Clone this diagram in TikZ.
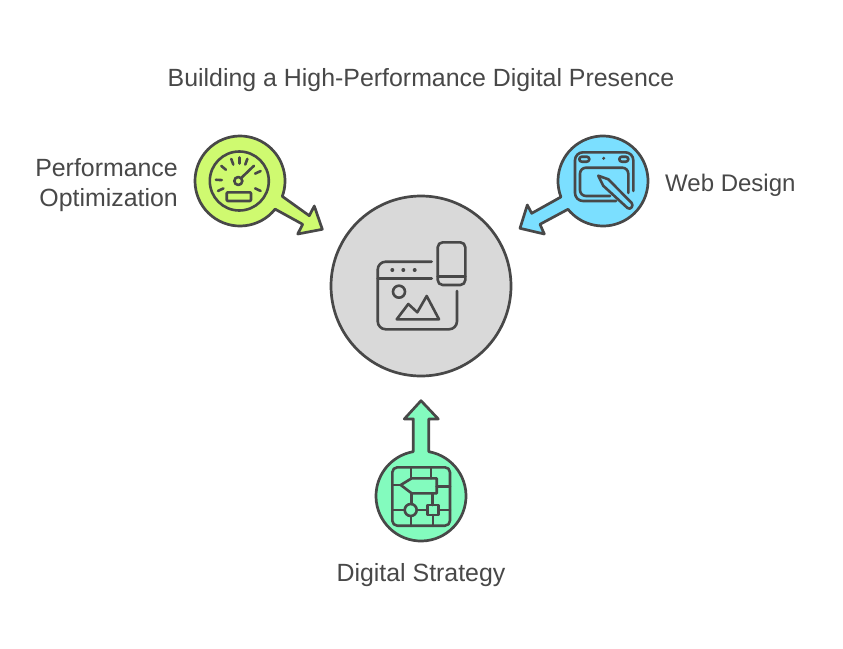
\documentclass[tikz,border=0pt]{standalone}
\usepackage{fontspec}
\setmainfont{Liberation Sans}
\definecolor{ink}{HTML}{484848}
\definecolor{lime}{HTML}{CFFA70}
\definecolor{sky}{HTML}{7BDFFF}
\definecolor{mint}{HTML}{83FBBE}
\definecolor{hub}{HTML}{D9D9D9}
\begin{document}
\begin{tikzpicture}[x=1pt,y=-1pt,line join=round,
  shapeline/.style={draw=ink,line width=2.7pt},
  icon/.style={draw=ink,line width=2.6pt,line cap=round},
  lbl/.style={text=ink,font=\fontsize{24.9}{30}\selectfont,inner sep=0pt}]
\useasboundingbox (0,0) rectangle (843,648);
\fill[white] (0,0) rectangle (843,648);
\node[lbl] (title) at (421,80) {Building a High-Performance Digital Presence};
% hub
\node[circle,fill=hub,shapeline,minimum size=180pt,inner sep=0pt] (hub) at (421,286) {};
% green
\coordinate (gc) at (240,181);
\path[fill=lime,shapeline] (gc) ++(38.7:45) arc[start angle=38.7,end angle=380,radius=45] -- (309.3,215.7) -- (314.3,206) -- (322.3,229.3) -- (297.7,234) -- (302.7,224.3) -- cycle;
% blue
\coordinate (bc) at (603,181);
\path[fill=sky,shapeline] (bc) ++(159.2:45) arc[start angle=159.2,end angle=501.1,radius=45] -- (540,224.3) -- (544.3,234) -- (520,228.3) -- (527.3,205) -- (531.7,213.3) -- cycle;
% teal
\coordinate (tc) at (421,496);
\path[fill=mint,shapeline] (tc) ++(280:45) arc[start angle=280,end angle=620,radius=45] -- (413.3,419) -- (404.3,419) -- (421,400.7) -- (438.3,419) -- (428.8,419) -- cycle;
% gauge icon
\draw[icon] (239.3,181) circle[radius=29.5];
\draw[icon] (238.3,181) circle[radius=4];
\draw[icon] (241,178.2) -- (254,165.7);
\draw[icon,rounded corners=1pt] (226.7,192.3) rectangle (251,201);
\foreach \a in {-90,-110,-70,-140,-177,155,-25,25}
  \draw[icon] (239.3,181) ++(\a:17.5) -- ++(\a:6);
% tablet icon
\draw[icon] (616,201) -- (583,201) arc[start angle=90,end angle=180,radius=8] -- (575,160.3) arc[start angle=180,end angle=270,radius=8] -- (625.3,152.3) arc[start angle=270,end angle=360,radius=8] -- (633.3,191);
\draw[icon,rounded corners=6pt] (610,196) -- (580,196) -- (580,167.7) -- (628.3,167.7) -- (628.3,193);
\draw[icon,rounded corners=2.5pt] (579.3,156.7) rectangle (589.3,161.7);
\draw[icon,rounded corners=2.5pt] (619.3,156.7) rectangle (628.3,161.7);
\fill[ink] (603.7,158.3) circle[radius=1.7];
\draw[icon,fill=sky] (598.3,175.7) -- (608.3,179.3) -- (631.7,203) .. controls (634,205.5) and (630.5,210.5) .. (627.5,208) -- (603.2,185.7) -- cycle;
% chip icon
\draw[icon,rounded corners=5pt] (392.3,467.3) rectangle (450,525.7);
\draw[icon] (400.7,485) -- (411.7,478.3) -- (436.7,478.3) -- (436.7,493.3) -- (411.7,493.3) -- cycle;
\draw[icon] (392.3,485) -- (400.7,485);
\draw[icon] (411,467.3) -- (411,478.3);
\draw[icon] (431,467.3) -- (431,478.3);
\draw[icon] (436.7,486.7) -- (450,486.7);
\draw[icon] (411.7,493.3) -- (411.7,504);
\draw[icon] (432.7,493.3) -- (432.7,505);
\draw[icon] (410.7,510) circle[radius=6];
\draw[icon] (427.7,505) rectangle (438.3,515);
\draw[icon] (392.3,510) -- (404.7,510);
\draw[icon] (416.7,510) -- (427.7,510);
\draw[icon] (438.3,510) -- (450,510);
\draw[icon] (411,516) -- (411,525.7);
\draw[icon] (433,515) -- (433,525.7);
% web icon
\draw[icon,rounded corners=8pt] (431.7,261.7) -- (377.7,261.7) -- (377.7,329.3) -- (457,329.3) -- (457,291);
\draw[icon] (377.7,278.3) -- (431.7,278.3);
\foreach \x in {392.3,403.3,414.7} \fill[ink] (\x,270) circle[radius=2];
\draw[icon] (399,291.7) circle[radius=6];
\draw[icon] (396.7,319.3) -- (408.3,304) -- (417.3,312.3) -- (426.7,296) -- (439,319.3) -- cycle;
\draw[icon,rounded corners=5pt] (437.7,242.3) rectangle (465.3,285);
\draw[icon] (437.7,276.7) -- (465.3,276.7);
% labels
\node[lbl,align=right,anchor=east] (perf) at (178,185) {Performance\\[0pt]Optimization};
\node[lbl,anchor=west,font=\fontsize{24}{30}\selectfont] (web) at (665,185) {Web Design};
\node[lbl] (strategy) at (421,575) {Digital Strategy};
\end{tikzpicture}
\end{document}
